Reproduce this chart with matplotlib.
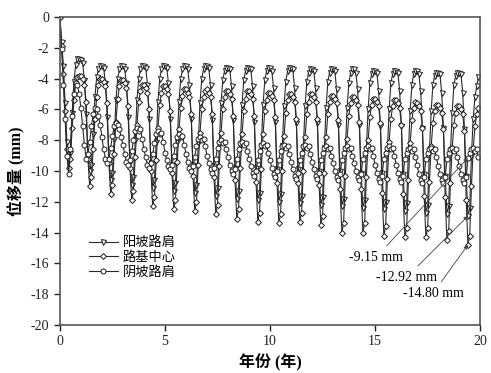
import numpy as np
import matplotlib
matplotlib.use('Agg')
import matplotlib.pyplot as plt

# ---- data: monthly readings, one row per year (k = 0..11) ----
# 阳坡路肩
yang_rows = [
    [0.0, -1.6, -3.2, -5.6, -8.1, -9.3, -8.8, -6.2, -4.2, -3.1, -2.7, -2.7],
    [-2.8, -3.0, -4.1, -6.3, -9.0, -10.0, -9.6, -7.6, -5.2, -3.9, -3.4, -3.2],
    [-3.2, -3.3, -4.3, -6.5, -9.3, -10.6, -10.1, -7.9, -5.4, -4.0, -3.4, -3.2],
    [-3.2, -3.4, -4.3, -6.5, -9.4, -10.9, -10.4, -8.0, -5.4, -4.0, -3.4, -3.2],
    [-3.2, -3.3, -4.4, -6.6, -9.5, -11.1, -10.6, -8.1, -5.5, -4.0, -3.4, -3.2],
    [-3.2, -3.3, -4.3, -6.6, -9.6, -11.3, -10.8, -8.1, -5.5, -4.0, -3.4, -3.2],
    [-3.2, -3.4, -4.4, -6.6, -9.6, -11.4, -10.9, -8.2, -5.6, -4.0, -3.4, -3.2],
    [-3.2, -3.3, -4.4, -6.7, -9.7, -11.6, -11.1, -8.3, -5.6, -4.1, -3.5, -3.3],
    [-3.3, -3.4, -4.5, -6.7, -9.8, -11.8, -11.3, -8.3, -5.7, -4.1, -3.5, -3.3],
    [-3.3, -3.4, -4.5, -6.8, -9.8, -11.9, -11.4, -8.4, -5.7, -4.1, -3.5, -3.3],
    [-3.3, -3.5, -4.6, -6.8, -9.9, -12.0, -11.5, -8.4, -5.8, -4.2, -3.5, -3.3],
    [-3.3, -3.4, -4.6, -6.9, -9.9, -12.1, -11.6, -8.5, -5.8, -4.2, -3.6, -3.4],
    [-3.4, -3.5, -4.6, -6.9, -10.0, -12.2, -11.7, -8.5, -5.9, -4.2, -3.6, -3.4],
    [-3.4, -3.5, -4.7, -7.0, -10.0, -12.3, -11.8, -8.6, -5.9, -4.3, -3.6, -3.4],
    [-3.4, -3.6, -4.7, -7.0, -10.1, -12.4, -11.9, -8.6, -6.0, -4.3, -3.7, -3.5],
    [-3.5, -3.6, -4.8, -7.1, -10.1, -12.5, -12.0, -8.7, -6.0, -4.3, -3.7, -3.5],
    [-3.5, -3.6, -4.8, -7.1, -10.2, -12.6, -12.1, -8.7, -6.1, -4.4, -3.7, -3.5],
    [-3.5, -3.7, -4.8, -7.2, -10.2, -12.7, -12.2, -8.8, -6.1, -4.4, -3.8, -3.6],
    [-3.6, -3.7, -4.9, -7.2, -10.3, -12.8, -12.3, -8.8, -6.2, -4.4, -3.8, -3.6],
    [-3.6, -3.7, -4.9, -7.3, -10.3, -12.92, -12.4, -9.0, -6.6, -5.2, -4.5, -3.9],
]
# 路基中心
zhong_rows = [
    [0.0, -1.9, -3.7, -6.1, -8.6, -9.8, -9.2, -7.2, -5.4, -4.3, -3.9, -3.8],
    [-3.8, -4.0, -4.4, -5.5, -9.2, -11.0, -10.4, -8.6, -6.6, -5.2, -4.4, -4.0],
    [-4.0, -4.2, -4.5, -5.6, -9.5, -11.5, -10.9, -8.9, -6.8, -5.3, -4.5, -4.1],
    [-4.1, -4.3, -4.6, -5.8, -9.8, -11.9, -11.3, -9.1, -7.0, -5.5, -4.8, -4.4],
    [-4.4, -4.6, -4.9, -6.0, -10.0, -12.3, -11.7, -9.3, -7.2, -5.7, -4.9, -4.5],
    [-4.5, -4.7, -5.0, -6.1, -10.1, -12.5, -11.9, -9.4, -7.3, -5.9, -5.1, -4.7],
    [-4.7, -4.9, -5.2, -6.3, -10.3, -12.6, -12.0, -9.6, -7.5, -6.0, -5.2, -4.8],
    [-4.7, -4.9, -5.2, -6.3, -10.4, -12.8, -12.2, -9.7, -7.5, -6.0, -5.2, -4.8],
    [-4.8, -5.0, -5.3, -6.4, -10.6, -13.1, -12.5, -9.8, -7.6, -6.1, -5.3, -4.8],
    [-4.8, -5.0, -5.3, -6.4, -10.7, -13.3, -12.7, -9.9, -7.6, -6.1, -5.4, -4.9],
    [-4.9, -5.1, -5.4, -6.5, -10.8, -13.4, -12.8, -10.0, -7.7, -6.2, -5.4, -5.0],
    [-5.0, -5.2, -5.5, -6.6, -10.8, -13.3, -12.7, -10.0, -7.8, -6.3, -5.5, -5.0],
    [-5.0, -5.2, -5.5, -6.6, -10.9, -13.5, -12.9, -10.1, -7.8, -6.3, -5.5, -5.1],
    [-5.1, -5.3, -5.6, -6.7, -11.2, -14.0, -13.4, -10.3, -7.9, -6.4, -5.6, -5.2],
    [-5.2, -5.4, -5.7, -6.8, -11.2, -14.0, -13.4, -10.4, -8.0, -6.5, -5.7, -5.3],
    [-5.3, -5.5, -5.8, -6.9, -11.4, -14.2, -13.6, -10.5, -8.1, -6.6, -5.8, -5.4],
    [-5.4, -5.6, -5.9, -7.0, -11.5, -14.3, -13.7, -10.6, -8.2, -6.7, -5.9, -5.5],
    [-5.6, -5.8, -6.1, -7.2, -11.6, -14.3, -13.7, -10.7, -8.4, -6.9, -6.1, -5.7],
    [-5.7, -5.9, -6.2, -7.3, -11.7, -14.5, -13.9, -10.8, -8.5, -7.0, -6.2, -5.8],
    [-5.8, -6.0, -6.3, -7.4, -11.9, -14.80, -14.2, -11.0, -8.6, -7.1, -6.3, -5.9],
]
# 阴坡路肩
yin_rows = [
    [0.0, -2.1, -4.4, -6.6, -9.0, -10.2, -8.6, -6.4, -5.0, -4.3, -4.4, -5.0],
    [-5.9, -7.1, -8.3, -9.2, -8.9, -8.1, -7.1, -6.3, -5.9, -6.0, -6.4, -7.0],
    [-7.8, -8.6, -9.2, -9.5, -9.2, -8.5, -7.7, -7.1, -6.9, -7.0, -7.3, -7.8],
    [-8.3, -8.9, -9.4, -9.6, -9.3, -8.7, -8.0, -7.4, -7.2, -7.4, -7.3, -7.9],
    [-8.6, -9.1, -9.6, -9.8, -9.5, -8.9, -8.2, -7.6, -7.4, -7.6, -7.5, -8.1],
    [-8.8, -9.3, -9.7, -9.9, -9.6, -9.0, -8.3, -7.8, -7.6, -7.8, -7.7, -8.3],
    [-8.9, -9.4, -9.8, -10.0, -9.7, -9.1, -8.4, -7.9, -7.8, -8.0, -7.9, -8.4],
    [-9.0, -9.5, -9.9, -10.1, -9.8, -9.2, -8.5, -8.1, -8.0, -8.2, -8.1, -8.6],
    [-9.1, -9.6, -10.0, -10.2, -9.9, -9.2, -8.6, -8.2, -8.1, -8.3, -8.2, -8.7],
    [-9.2, -9.7, -10.1, -10.3, -10.0, -9.3, -8.7, -8.3, -8.2, -8.4, -8.3, -8.8],
    [-9.3, -9.8, -10.2, -10.4, -10.0, -9.3, -8.7, -8.4, -8.3, -8.5, -8.4, -8.9],
    [-9.4, -9.9, -10.3, -10.5, -10.1, -9.3, -8.8, -8.4, -8.3, -8.5, -8.4, -8.9],
    [-9.4, -9.9, -10.3, -10.5, -10.1, -9.3, -8.8, -8.5, -8.4, -8.6, -8.5, -9.0],
    [-9.5, -10.0, -10.4, -10.6, -10.2, -9.3, -8.8, -8.5, -8.4, -8.6, -8.5, -9.0],
    [-9.5, -10.0, -10.4, -10.6, -10.2, -9.2, -8.8, -8.5, -8.4, -8.6, -8.5, -9.0],
    [-9.6, -10.1, -10.5, -10.7, -10.3, -9.2, -8.8, -8.5, -8.4, -8.6, -8.5, -9.0],
    [-9.6, -10.1, -10.5, -10.7, -10.3, -9.2, -8.8, -8.6, -8.5, -8.7, -8.6, -9.1],
    [-9.6, -10.2, -10.6, -10.8, -10.4, -9.2, -8.8, -8.6, -8.5, -8.7, -8.6, -9.1],
    [-9.7, -10.2, -10.6, -10.8, -10.4, -9.2, -8.8, -8.6, -8.5, -8.7, -8.6, -9.1],
    [-9.7, -10.2, -10.6, -10.8, -10.4, -9.15, -8.8, -8.6, -8.5, -8.7, -8.6, -9.1],
]
labels = ['阳坡路肩', '路基中心', '阴坡路肩']
markers = ['v', 'D', 'o']
notes = ['-9.15 mm', '-12.92 mm', '-14.80 mm']

# ---- figure ----
plt.rcParams['font.family'] = ['Liberation Serif', 'Noto Sans CJK SC']
plt.rcParams['axes.unicode_minus'] = False

fig = plt.figure(figsize=(4.91, 3.73), dpi=100)
ax = fig.add_axes([0.122, 0.129, 0.856, 0.825])

series = [np.ravel(yang_rows), np.ravel(zhong_rows), np.ravel(yin_rows)]
t = np.arange(len(series[0])) / 12.0

for y, lab, m in zip(series, labels, markers):
    ms = 3.0 if m == 'D' else 3.6
    ax.plot(t, y, color='#2a2a2a', lw=0.8, marker=m, ms=ms, mfc='white',
            mec='#1a1a1a', mew=0.7, label=lab)

# annotations at the last trough (month index 5 of the last year)
i_last = len(t) - 12 + 5
targets = [(t[i_last], series[2][i_last]),
           (t[i_last], series[0][i_last]),
           (t[i_last], series[1][i_last])]
text_pos = [(15.05, -15.6), (16.5, -16.9), (17.75, -17.95)]
for txt, xy, xt in zip(notes, targets, text_pos):
    ax.annotate(txt, xy=xy, xytext=xt, fontsize=10, ha='center', va='center',
                arrowprops=dict(arrowstyle='-|>', color='#444444', lw=0.6,
                                mutation_scale=6, shrinkA=2, shrinkB=0))

ax.set_xlim(0, 20)
ax.set_ylim(-20, 0)
ax.set_xticks([0, 5, 10, 15, 20])
ax.set_yticks(np.arange(-20, 1, 2))
ax.tick_params(direction='out', length=4, width=1.0, labelsize=10,
               colors='#222222', top=False, right=False)
for s in ax.spines.values():
    s.set_color('#555555')
    s.set_linewidth(1.2)

ax.set_xlabel('年份 (年)', fontsize=11.5, fontweight='bold', labelpad=4)
ax.set_ylabel('位移量 (mm)', fontsize=11.5, fontweight='bold', labelpad=4)

ax.legend(loc='upper left', bbox_to_anchor=(0.04, 0.325), frameon=False,
          fontsize=9.5, handlelength=2.2, handletextpad=0.4, labelspacing=0.15,
          numpoints=1)

fig.savefig('out.png', dpi=100)
